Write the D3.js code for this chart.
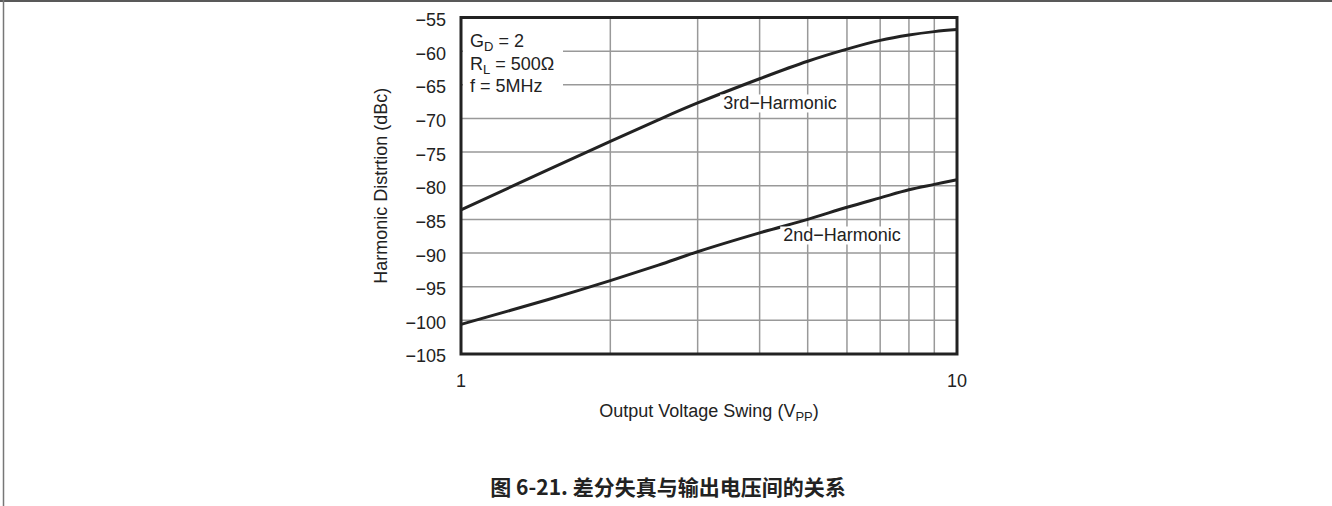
<!DOCTYPE html>
<html>
<head>
<meta charset="utf-8">
<script src="https://cdn.jsdelivr.net/npm/d3@7"></script>
<style>
  body { margin: 0; background: #fff; }
  text { font-family: "Liberation Sans", Arial, sans-serif; fill: #222; }
</style>
</head>
<body>
<div id="chart"></div>
<script>
// chart data
var voltage = [1, 1.5, 2, 2.5, 3, 4, 5, 6, 7, 8, 9, 10];
var thirdHarmonic = [-83.6, -77.6, -73.4, -70.2, -67.7, -64.1, -61.5, -59.7, -58.4, -57.6, -57.1, -56.8];
var secondHarmonic = [-100.6, -96.9, -94.1, -91.8, -89.8, -87.0, -85.0, -83.2, -81.8, -80.6, -79.8, -79.1];
var yTicks = [-55, -60, -65, -70, -75, -80, -85, -90, -95, -100, -105];
var xGrid = [2, 3, 4, 5, 6, 7, 8, 9];
var xTickLabels = [1, 10];

var width = 1332, height = 506;
var fontSize = 18;

// plot box
var plotLeft = 461, plotRight = 957, plotTop = 17.5, plotBottom = 354;

var svg = d3.select("#chart").append("svg")
  .attr("width", width)
  .attr("height", height);

// page frame lines
svg.append("line").attr("x1", 0).attr("x2", width).attr("y1", 1).attr("y2", 1)
  .attr("stroke", "#222").attr("stroke-width", 1.5);
svg.append("line").attr("x1", 3.5).attr("x2", 3.5).attr("y1", 0).attr("y2", height)
  .attr("stroke", "#777").attr("stroke-width", 1.5);

var xScale = d3.scaleLog().domain([1, 10]).range([plotLeft, plotRight]);
var yScale = d3.scaleLinear().domain([-105, -55]).range([plotBottom, plotTop]);

// grid
svg.append("g").selectAll("line").data(yTicks).enter().append("line")
  .attr("x1", plotLeft).attr("x2", plotRight)
  .attr("y1", function(d) { return yScale(d); })
  .attr("y2", function(d) { return yScale(d); })
  .attr("stroke", "#999").attr("stroke-width", 1.5);

svg.append("g").selectAll("line").data(xGrid).enter().append("line")
  .attr("x1", function(d) { return xScale(d); })
  .attr("x2", function(d) { return xScale(d); })
  .attr("y1", plotTop).attr("y2", plotBottom)
  .attr("stroke", "#999").attr("stroke-width", 1.5);

// y tick labels
svg.append("g").selectAll("text").data(yTicks).enter().append("text")
  .attr("x", 446)
  .attr("y", function(d) { return yScale(d) + 2; })
  .attr("dy", "0.36em")
  .attr("text-anchor", "end")
  .style("font-size", fontSize + "px")
  .text(function(d) { return "\u2212" + Math.abs(d); });

// x tick labels
svg.append("g").selectAll("text").data(xTickLabels).enter().append("text")
  .attr("x", function(d) { return xScale(d); })
  .attr("y", 381)
  .attr("dy", "0.36em")
  .attr("text-anchor", "middle")
  .style("font-size", fontSize + "px")
  .text(function(d) { return d; });

// axis titles
var xt = svg.append("text")
  .attr("x", (plotLeft + plotRight) / 2)
  .attr("y", 411)
  .attr("dy", "0.36em")
  .attr("text-anchor", "middle")
  .style("font-size", fontSize + "px");
xt.append("tspan").text("Output Voltage Swing (V");
xt.append("tspan").attr("dy", 4).style("font-size", "13px").text("PP");
xt.append("tspan").attr("dy", -4).text(")");

svg.append("text")
  .attr("transform", "translate(381," + ((plotTop + plotBottom) / 2) + ") rotate(-90)")
  .attr("dy", "0.36em")
  .attr("text-anchor", "middle")
  .style("font-size", fontSize + "px")
  .text("Harmonic Distrtion (dBc)");

// legend block (white backed)
svg.append("rect").attr("x", 463).attr("y", 27).attr("width", 100).attr("height", 74).attr("fill", "#fff");
var legendLines = [["G", "D", " = 2"], ["R", "L", " = 500\u03A9"], ["f = 5MHz", "", ""]];
legendLines.forEach(function(l, i) {
  var t = svg.append("text")
    .attr("x", 470)
    .attr("y", 47 + i * 22.5)
    .style("font-size", fontSize + "px");
  t.append("tspan").text(l[0]);
  if (l[1]) {
    t.append("tspan").attr("dy", 4).style("font-size", "13px").text(l[1]);
    t.append("tspan").attr("dy", -4).text(l[2]);
  }
});

// curves
var line = d3.line()
  .x(function(d) { return xScale(d[0]); })
  .y(function(d) { return yScale(d[1]); })
  .curve(d3.curveCatmullRom.alpha(0.5));

[thirdHarmonic, secondHarmonic].forEach(function(s) {
  svg.append("path")
    .datum(voltage.map(function(v, i) { return [v, s[i]]; }))
    .attr("d", line)
    .attr("fill", "none")
    .attr("stroke", "#222")
    .attr("stroke-width", 3);
});

// curve labels with white backing
var curveLabels = [
  { text: "3rd\u2212Harmonic", x: 780, y: 103 },
  { text: "2nd\u2212Harmonic", x: 842, y: 235 }
];
curveLabels.forEach(function(c) {
  var t = svg.append("text")
    .attr("x", c.x).attr("y", c.y)
    .attr("dy", "0.36em")
    .attr("text-anchor", "middle")
    .style("font-size", fontSize + "px")
    .text(c.text);
  var b = t.node().getBBox();
  svg.insert("rect", function() { return t.node(); })
    .attr("x", b.x - 3).attr("y", b.y + 1)
    .attr("width", b.width + 6).attr("height", b.height - 2)
    .attr("fill", "#fff");
});

// plot border
svg.append("rect")
  .attr("x", plotLeft).attr("y", plotTop)
  .attr("width", plotRight - plotLeft).attr("height", plotBottom - plotTop)
  .attr("fill", "none").attr("stroke", "#222").attr("stroke-width", 3);

// caption
svg.append("text")
  .attr("x", 668)
  .attr("y", 487)
  .attr("dy", "0.36em")
  .attr("text-anchor", "middle")
  .style("font-size", "21px")
  .style("font-weight", "bold")
  .style("font-family", "'Noto Sans CJK SC', 'Liberation Sans', sans-serif")
  .text("图 6-21. 差分失真与输出电压间的关系");
</script>
</body>
</html>
